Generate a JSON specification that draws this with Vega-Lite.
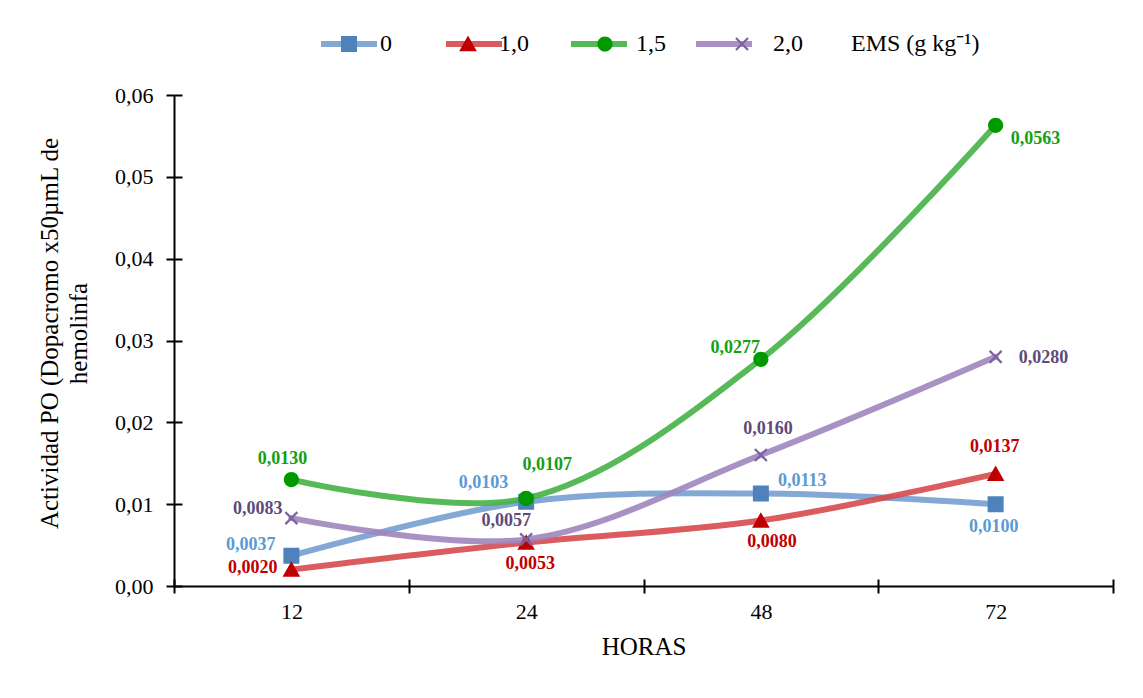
{
  "$schema": "https://vega.github.io/schema/vega-lite/v6.json",
  "width": 939,
  "height": 491,
  "autosize": "none",
  "padding": {"left": 174, "top": 95, "right": 30, "bottom": 112},
  "background": "white",
  "config": {
    "locale": {"number": {"decimal": ",", "thousands": ".", "grouping": [3], "currency": ["", ""]}},
    "view": {"stroke": null},
    "font": "Liberation Serif",
    "axis": {"grid": false, "domainColor": "black", "domainWidth": 2, "tickColor": "black", "tickWidth": 2, "labelColor": "black", "titleColor": "black", "labelFont": "Liberation Serif", "titleFont": "Liberation Serif", "labelFontSize": 22, "titleFontWeight": "normal"}
  },
  "data": {"values": [
    {"h": "12", "ems": "0", "v": 0.0037},
    {"h": "24", "ems": "0", "v": 0.0103},
    {"h": "48", "ems": "0", "v": 0.0113},
    {"h": "72", "ems": "0", "v": 0.0100},
    {"h": "12", "ems": "1,0", "v": 0.0020},
    {"h": "24", "ems": "1,0", "v": 0.0053},
    {"h": "48", "ems": "1,0", "v": 0.0080},
    {"h": "72", "ems": "1,0", "v": 0.0137},
    {"h": "12", "ems": "1,5", "v": 0.0130},
    {"h": "24", "ems": "1,5", "v": 0.0107},
    {"h": "48", "ems": "1,5", "v": 0.0277},
    {"h": "72", "ems": "1,5", "v": 0.0563},
    {"h": "12", "ems": "2,0", "v": 0.0083},
    {"h": "24", "ems": "2,0", "v": 0.0057},
    {"h": "48", "ems": "2,0", "v": 0.0160},
    {"h": "72", "ems": "2,0", "v": 0.0280}
  ]},
  "resolve": {"axis": {"x": "independent", "y": "independent"}},
  "layer": [
    {
      "encoding": {
        "x": {"field": "h", "type": "ordinal", "sort": ["12", "24", "48", "72"],
          "scale": {"type": "band", "paddingInner": 0, "paddingOuter": 0},
          "axis": {"title": "HORAS", "titleFontSize": 25, "labelAngle": 0, "tickBand": "extent", "tickSize": 7, "labelPadding": 8, "titlePadding": 12}},
        "y": {"field": "v", "type": "quantitative",
          "scale": {"domain": [0, 0.06], "nice": false, "zero": true},
          "axis": {"title": ["Actividad PO (Dopacromo x50µmL de", "hemolinfa"], "titleFontSize": 25, "titleLineHeight": 29, "values": [0, 0.01, 0.02, 0.03, 0.04, 0.05, 0.06], "format": ".2f", "tickSize": 8, "labelPadding": 13, "titleAngle": -90, "titleBaseline": "top", "titleAlign": "center", "titleX": -137, "titleY": 238}}
      },
      "layer": [
        {
          "mark": {"type": "line", "interpolate": "catmull-rom", "strokeWidth": 6, "strokeCap": "round", "opacity": 0.9},
          "encoding": {
            "stroke": {"field": "ems", "type": "nominal",
              "scale": {"domain": ["0", "1,0", "1,5", "2,0"], "range": ["#779FD0", "#D64A4C", "#45B145", "#9F86BD"]},
              "legend": {"orient": "none", "legendX": 163, "legendY": -63, "direction": "horizontal", "title": null, "labelExpr": "datum.label === '0' ? '  ' : '     '", "symbolType": "M-3.5,0H3.5", "symbolSize": 256, "symbolStrokeWidth": 6, "labelOffset": 19, "columnPadding": 45, "labelFontSize": 24, "labelFont": "Liberation Serif"}}
          }
        },
        {
          "mark": {"type": "point", "filled": true, "size": 256, "opacity": 1, "strokeWidth": 0},
          "encoding": {
            "color": {"field": "ems", "type": "nominal",
              "scale": {"range": ["#4F81BD", "#C00000", "#009A00", "#7F63A1"]},
              "legend": {"orient": "none", "legendX": 163, "legendY": -63, "direction": "horizontal", "title": "EMS (g kg⁻¹)", "titleOrient": "right", "symbolSize": 256, "symbolStrokeWidth": 0, "symbolOpacity": 1, "labelOffset": 19, "columnPadding": 45, "titlePadding": 48, "labelFontSize": 24, "labelFont": "Liberation Serif", "labelColor": "black", "titleColor": "black", "titleFontSize": 24, "titleFont": "Liberation Serif", "titleFontWeight": "normal", "titleAnchor": "middle", "titleBaseline": "middle"}},
            "shape": {"field": "ems", "type": "nominal",
              "scale": {"range": ["M-3.875,0H3.875M-1,-1H1V1H-1Z", "M-3.875,0H3.875M0,-1.05L1.1,0.9H-1.1Z", "M-3.875,0H3.875M-0.95,0A0.95,0.95 0 1,0 0.95,0A0.95,0.95 0 1,0 -0.95,0Z", "M-3.875,0H3.875M-0.85,-0.65L-0.65,-0.85L0,-0.2L0.65,-0.85L0.85,-0.65L0.2,0L0.85,0.65L0.65,0.85L0,0.2L-0.65,0.85L-0.85,0.65L-0.2,0Z"]}}
          }
        },
        {"transform": [{"filter": "datum.ems==='0' && datum.h==='12'"}], "mark": {"type": "text", "align": "right", "baseline": "middle", "dx": -16, "dy": -11, "fontSize": 18, "fontWeight": "bold", "font": "Liberation Serif"},
         "encoding": {"text": {"field": "v", "type": "quantitative", "format": ".4f"}, "fill": {"field": "ems", "type": "nominal", "scale": {"domain": ["0", "1,0", "1,5", "2,0"], "range": ["#5B9BD5", "#C00000", "#15A015", "#604A7B"]}, "legend": null}}},
        {"transform": [{"filter": "datum.ems==='0' && datum.h==='24'"}], "mark": {"type": "text", "align": "right", "baseline": "middle", "dx": -18, "dy": -19, "fontSize": 18, "fontWeight": "bold", "font": "Liberation Serif"},
         "encoding": {"text": {"field": "v", "type": "quantitative", "format": ".4f"}, "fill": {"field": "ems", "type": "nominal", "scale": {"domain": ["0", "1,0", "1,5", "2,0"], "range": ["#5B9BD5", "#C00000", "#15A015", "#604A7B"]}, "legend": null}}},
        {"transform": [{"filter": "datum.ems==='0' && datum.h==='48'"}], "mark": {"type": "text", "align": "left", "baseline": "middle", "dx": 17, "dy": -13, "fontSize": 18, "fontWeight": "bold", "font": "Liberation Serif"},
         "encoding": {"text": {"field": "v", "type": "quantitative", "format": ".4f"}, "fill": {"field": "ems", "type": "nominal", "scale": {"domain": ["0", "1,0", "1,5", "2,0"], "range": ["#5B9BD5", "#C00000", "#15A015", "#604A7B"]}, "legend": null}}},
        {"transform": [{"filter": "datum.ems==='0' && datum.h==='72'"}], "mark": {"type": "text", "align": "center", "baseline": "middle", "dx": -2, "dy": 23, "fontSize": 18, "fontWeight": "bold", "font": "Liberation Serif"},
         "encoding": {"text": {"field": "v", "type": "quantitative", "format": ".4f"}, "fill": {"field": "ems", "type": "nominal", "scale": {"domain": ["0", "1,0", "1,5", "2,0"], "range": ["#5B9BD5", "#C00000", "#15A015", "#604A7B"]}, "legend": null}}},
        {"transform": [{"filter": "datum.ems==='1,0' && datum.h==='12'"}], "mark": {"type": "text", "align": "right", "baseline": "middle", "dx": -14, "dy": -2, "fontSize": 18, "fontWeight": "bold", "font": "Liberation Serif"},
         "encoding": {"text": {"field": "v", "type": "quantitative", "format": ".4f"}, "fill": {"field": "ems", "type": "nominal", "scale": {"domain": ["0", "1,0", "1,5", "2,0"], "range": ["#5B9BD5", "#C00000", "#15A015", "#604A7B"]}, "legend": null}}},
        {"transform": [{"filter": "datum.ems==='1,0' && datum.h==='24'"}], "mark": {"type": "text", "align": "center", "baseline": "middle", "dx": 4, "dy": 21, "fontSize": 18, "fontWeight": "bold", "font": "Liberation Serif"},
         "encoding": {"text": {"field": "v", "type": "quantitative", "format": ".4f"}, "fill": {"field": "ems", "type": "nominal", "scale": {"domain": ["0", "1,0", "1,5", "2,0"], "range": ["#5B9BD5", "#C00000", "#15A015", "#604A7B"]}, "legend": null}}},
        {"transform": [{"filter": "datum.ems==='1,0' && datum.h==='48'"}], "mark": {"type": "text", "align": "center", "baseline": "middle", "dx": 11, "dy": 21, "fontSize": 18, "fontWeight": "bold", "font": "Liberation Serif"},
         "encoding": {"text": {"field": "v", "type": "quantitative", "format": ".4f"}, "fill": {"field": "ems", "type": "nominal", "scale": {"domain": ["0", "1,0", "1,5", "2,0"], "range": ["#5B9BD5", "#C00000", "#15A015", "#604A7B"]}, "legend": null}}},
        {"transform": [{"filter": "datum.ems==='1,0' && datum.h==='72'"}], "mark": {"type": "text", "align": "center", "baseline": "middle", "dx": -1, "dy": -27, "fontSize": 18, "fontWeight": "bold", "font": "Liberation Serif"},
         "encoding": {"text": {"field": "v", "type": "quantitative", "format": ".4f"}, "fill": {"field": "ems", "type": "nominal", "scale": {"domain": ["0", "1,0", "1,5", "2,0"], "range": ["#5B9BD5", "#C00000", "#15A015", "#604A7B"]}, "legend": null}}},
        {"transform": [{"filter": "datum.ems==='1,5' && datum.h==='12'"}], "mark": {"type": "text", "align": "center", "baseline": "middle", "dx": -9, "dy": -21, "fontSize": 18, "fontWeight": "bold", "font": "Liberation Serif"},
         "encoding": {"text": {"field": "v", "type": "quantitative", "format": ".4f"}, "fill": {"field": "ems", "type": "nominal", "scale": {"domain": ["0", "1,0", "1,5", "2,0"], "range": ["#5B9BD5", "#C00000", "#15A015", "#604A7B"]}, "legend": null}}},
        {"transform": [{"filter": "datum.ems==='1,5' && datum.h==='24'"}], "mark": {"type": "text", "align": "center", "baseline": "middle", "dx": 21, "dy": -33, "fontSize": 18, "fontWeight": "bold", "font": "Liberation Serif"},
         "encoding": {"text": {"field": "v", "type": "quantitative", "format": ".4f"}, "fill": {"field": "ems", "type": "nominal", "scale": {"domain": ["0", "1,0", "1,5", "2,0"], "range": ["#5B9BD5", "#C00000", "#15A015", "#604A7B"]}, "legend": null}}},
        {"transform": [{"filter": "datum.ems==='1,5' && datum.h==='48'"}], "mark": {"type": "text", "align": "right", "baseline": "middle", "dx": -1, "dy": -11, "fontSize": 18, "fontWeight": "bold", "font": "Liberation Serif"},
         "encoding": {"text": {"field": "v", "type": "quantitative", "format": ".4f"}, "fill": {"field": "ems", "type": "nominal", "scale": {"domain": ["0", "1,0", "1,5", "2,0"], "range": ["#5B9BD5", "#C00000", "#15A015", "#604A7B"]}, "legend": null}}},
        {"transform": [{"filter": "datum.ems==='1,5' && datum.h==='72'"}], "mark": {"type": "text", "align": "left", "baseline": "middle", "dx": 15, "dy": 14, "fontSize": 18, "fontWeight": "bold", "font": "Liberation Serif"},
         "encoding": {"text": {"field": "v", "type": "quantitative", "format": ".4f"}, "fill": {"field": "ems", "type": "nominal", "scale": {"domain": ["0", "1,0", "1,5", "2,0"], "range": ["#5B9BD5", "#C00000", "#15A015", "#604A7B"]}, "legend": null}}},
        {"transform": [{"filter": "datum.ems==='2,0' && datum.h==='12'"}], "mark": {"type": "text", "align": "right", "baseline": "middle", "dx": -9, "dy": -9, "fontSize": 18, "fontWeight": "bold", "font": "Liberation Serif"},
         "encoding": {"text": {"field": "v", "type": "quantitative", "format": ".4f"}, "fill": {"field": "ems", "type": "nominal", "scale": {"domain": ["0", "1,0", "1,5", "2,0"], "range": ["#5B9BD5", "#C00000", "#15A015", "#604A7B"]}, "legend": null}}},
        {"transform": [{"filter": "datum.ems==='2,0' && datum.h==='24'"}], "mark": {"type": "text", "align": "center", "baseline": "middle", "dx": -20, "dy": -18, "fontSize": 18, "fontWeight": "bold", "font": "Liberation Serif"},
         "encoding": {"text": {"field": "v", "type": "quantitative", "format": ".4f"}, "fill": {"field": "ems", "type": "nominal", "scale": {"domain": ["0", "1,0", "1,5", "2,0"], "range": ["#5B9BD5", "#C00000", "#15A015", "#604A7B"]}, "legend": null}}},
        {"transform": [{"filter": "datum.ems==='2,0' && datum.h==='48'"}], "mark": {"type": "text", "align": "center", "baseline": "middle", "dx": 7, "dy": -26, "fontSize": 18, "fontWeight": "bold", "font": "Liberation Serif"},
         "encoding": {"text": {"field": "v", "type": "quantitative", "format": ".4f"}, "fill": {"field": "ems", "type": "nominal", "scale": {"domain": ["0", "1,0", "1,5", "2,0"], "range": ["#5B9BD5", "#C00000", "#15A015", "#604A7B"]}, "legend": null}}},
        {"transform": [{"filter": "datum.ems==='2,0' && datum.h==='72'"}], "mark": {"type": "text", "align": "left", "baseline": "middle", "dx": 23, "dy": 1, "fontSize": 18, "fontWeight": "bold", "font": "Liberation Serif"},
         "encoding": {"text": {"field": "v", "type": "quantitative", "format": ".4f"}, "fill": {"field": "ems", "type": "nominal", "scale": {"domain": ["0", "1,0", "1,5", "2,0"], "range": ["#5B9BD5", "#C00000", "#15A015", "#604A7B"]}, "legend": null}}}
      ]
    },
    {
      "mark": {"type": "point", "opacity": 0},
      "encoding": {
        "x": {"field": "h", "type": "ordinal", "sort": ["12", "24", "48", "72"],
          "axis": {"orient": "bottom", "labels": false, "domain": false, "title": null, "tickBand": "extent", "tickSize": -7}},
        "y": {"field": "v", "type": "quantitative",
          "axis": {"orient": "left", "labels": false, "domain": false, "title": null, "values": [0, 0.01, 0.02, 0.03, 0.04, 0.05, 0.06], "tickSize": -8}}
      }
    }
  ]
}
